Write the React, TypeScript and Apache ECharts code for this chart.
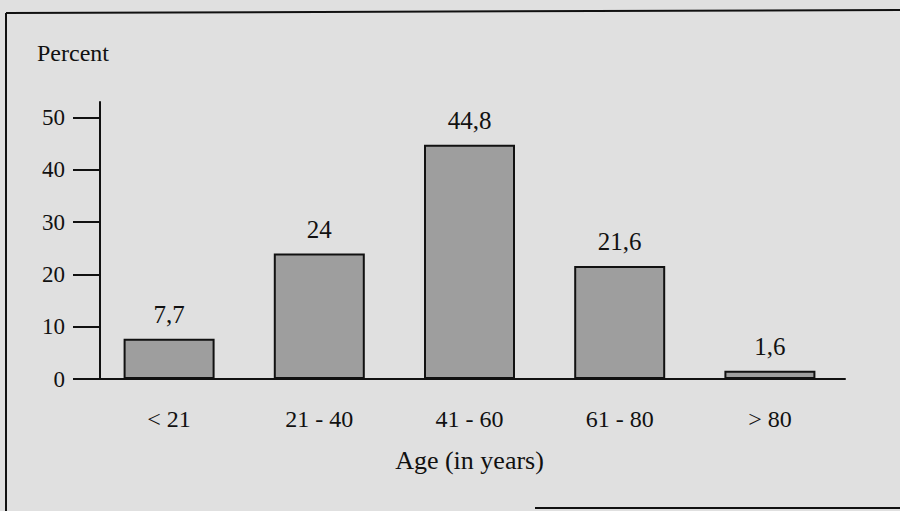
import React, { useEffect, useRef } from "react";
import * as echarts from "echarts";

const categories = ["< 21", "21 - 40", "41 - 60", "61 - 80", "> 80"];
const percentValues = [7.7, 24, 44.8, 21.6, 1.6];
const yTickValues = [0, 10, 20, 30, 40, 50];

const FONT = "Liberation Serif";

export default function App() {
  const ref = useRef<HTMLDivElement>(null);
  useEffect(() => {
    if (!ref.current) return;
    const chart = echarts.init(ref.current, undefined, { renderer: "svg" });
    chart.setOption({
      animation: false,
      backgroundColor: "#e0e0e0",
      grid: { left: 94, right: 55, top: 102, bottom: 132 },
      xAxis: {
        type: "category",
        data: categories,
        axisLine: { lineStyle: { color: "#111", width: 2 } },
        axisTick: { alignWithLabel: true, length: 18, lineStyle: { color: "#111", width: 2 } },
        axisLabel: { margin: 28, color: "#111", fontFamily: FONT, fontSize: 24 },
        name: "Age (in years)",
        nameLocation: "middle",
        nameGap: 68,
        nameTextStyle: { color: "#111", fontFamily: FONT, fontSize: 26 },
      },
      yAxis: {
        type: "value",
        min: 0,
        max: 53,
        interval: 10,
        offset: -6,
        splitLine: { show: false },
        axisLine: { show: true, lineStyle: { color: "#111", width: 2 } },
        axisTick: { show: true, length: 27, customValues: yTickValues, lineStyle: { color: "#111", width: 2 } },
        axisLabel: { margin: 35, customValues: yTickValues, color: "#111", fontFamily: FONT, fontSize: 23 },
      },
      graphic: [
        { type: "text", left: 37, top: 41, style: { text: "Percent", fill: "#111", font: `24px "${FONT}"` } },
        { type: "line", shape: { x1: 6, y1: 13, x2: 6, y2: 511 }, style: { stroke: "#111", lineWidth: 2 } },
        { type: "line", shape: { x1: 6, y1: 13, x2: 900, y2: 10 }, style: { stroke: "#111", lineWidth: 2 } },
        { type: "line", shape: { x1: 535, y1: 508, x2: 900, y2: 508 }, style: { stroke: "#111", lineWidth: 2 } },
      ],
      series: [
        {
          type: "bar",
          data: percentValues,
          barWidth: 91,
          itemStyle: { color: "#9e9e9e", borderColor: "#111", borderWidth: 2 },
          label: {
            show: true,
            position: "top",
            distance: 12,
            color: "#111",
            fontFamily: FONT,
            fontSize: 25,
            formatter: (p: any) => String(p.value).replace(".", ","),
          },
        },
      ],
    });
    return () => chart.dispose();
  }, []);
  return <div ref={ref} style={{ position: "fixed", left: 0, top: 0, width: 900, height: 511 }} />;
}
